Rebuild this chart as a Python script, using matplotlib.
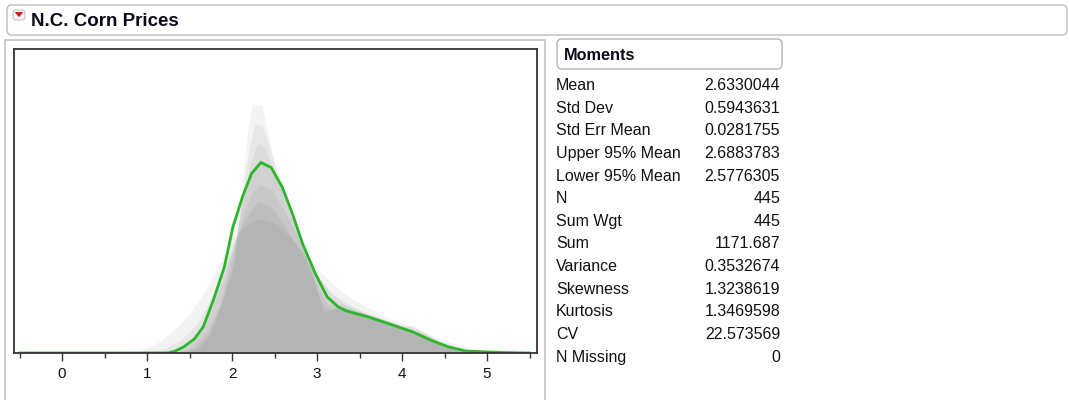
import matplotlib.pyplot as plt
from matplotlib.patches import FancyBboxPatch, Rectangle, Polygon

plt.rcParams['font.family'] = ['Liberation Sans', 'DejaVu Sans']

# smoothed density of corn price ($/bu), drawn as the green curve
price_x = [-0.5, 1.25, 1.33, 1.43, 1.56, 1.66, 1.78, 1.91, 2.01, 2.13, 2.23, 2.34,
           2.46, 2.59, 2.71, 2.83, 2.98, 3.12, 3.25, 3.35, 3.60, 3.84, 4.13, 4.34,
           4.55, 4.75, 5.0, 5.2, 5.5]
price_density = [0, 0, 0.009, 0.028, 0.066, 0.12, 0.244, 0.398, 0.583, 0.73, 0.83, 0.881,
                 0.858, 0.768, 0.645, 0.506, 0.367, 0.259, 0.213, 0.194, 0.167, 0.136, 0.097, 0.059,
                 0.028, 0.009, 0.005, 0.002, 0]

# shadowgram layers, from the narrowest bandwidth to the widest
shadow1_x = [1.4, 1.6, 1.75, 1.9, 2.03, 2.12, 2.18, 2.24, 2.35, 2.42, 2.5, 2.6, 2.75, 2.9,
             3.0, 3.08, 3.17, 3.28, 3.45, 3.65, 3.85, 4.0, 4.12, 4.25, 4.45, 4.65, 4.8]
shadow1_y = [0, 0.02, 0.09, 0.25, 0.42, 0.78, 1.02, 1.15, 1.15, 1.02, 0.88, 0.74, 0.57, 0.42,
             0.29, 0.19, 0.2, 0.23, 0.2, 0.17, 0.14, 0.12, 0.13, 0.1, 0.045, 0.012, 0]

shadow2_x = [1.35, 1.55, 1.72, 1.87, 2.02, 2.12, 2.2, 2.27, 2.36, 2.45, 2.56, 2.7, 2.85,
             2.97, 3.07, 3.17, 3.3, 3.5, 3.75, 3.95, 4.1, 4.3, 4.5, 4.7, 4.85]
shadow2_y = [0, 0.02, 0.09, 0.23, 0.44, 0.72, 0.94, 1.06, 1.05, 0.94, 0.8, 0.63, 0.46,
             0.32, 0.22, 0.2, 0.215, 0.19, 0.16, 0.135, 0.125, 0.085, 0.035, 0.01, 0]

shadow3_x = [1.3, 1.5, 1.7, 1.85, 2.0, 2.12, 2.22, 2.3, 2.38, 2.48, 2.6, 2.75, 2.9, 3.02,
             3.12, 3.25, 3.45, 3.7, 3.9, 4.1, 4.3, 4.5, 4.7, 4.9]
shadow3_y = [0, 0.02, 0.1, 0.22, 0.45, 0.68, 0.88, 0.97, 0.95, 0.86, 0.74, 0.58, 0.42, 0.3,
             0.23, 0.21, 0.185, 0.16, 0.135, 0.11, 0.065, 0.028, 0.008, 0]

shadow5_x = [1.0, 1.3, 1.5, 1.7, 1.9, 2.05, 2.2, 2.32, 2.45, 2.6, 2.8, 3.0, 3.15, 3.3, 3.5,
             3.7, 3.9, 4.1, 4.3, 4.5, 4.7, 4.9, 5.2]
shadow5_y = [0, 0.015, 0.05, 0.15, 0.34, 0.54, 0.72, 0.78, 0.76, 0.67, 0.52, 0.37, 0.28, 0.23,
             0.195, 0.165, 0.135, 0.105, 0.07, 0.035, 0.013, 0.004, 0]

shadow6_x = [0.9, 1.2, 1.4, 1.6, 1.8, 2.0, 2.15, 2.3, 2.45, 2.6, 2.8, 3.0, 3.2, 3.4, 3.6,
             3.8, 4.0, 4.2, 4.4, 4.6, 4.8, 5.0, 5.3]
shadow6_y = [0, 0.02, 0.06, 0.14, 0.29, 0.47, 0.62, 0.70, 0.68, 0.6, 0.47, 0.35, 0.27, 0.22,
             0.185, 0.155, 0.125, 0.095, 0.065, 0.035, 0.016, 0.006, 0]

shadow7_x = [0.6, 0.9, 1.1, 1.3, 1.5, 1.7, 1.9, 2.1, 2.3, 2.5, 2.7, 2.9, 3.1, 3.3, 3.5, 3.7,
             3.9, 4.1, 4.3, 4.5, 4.7, 4.9, 5.1, 5.4]
shadow7_y = [0, 0.01, 0.04, 0.1, 0.18, 0.3, 0.45, 0.57, 0.62, 0.6, 0.53, 0.44, 0.35, 0.28,
             0.23, 0.19, 0.15, 0.12, 0.09, 0.06, 0.035, 0.018, 0.007, 0]

moment_names = ["Mean", "Std Dev", "Std Err Mean", "Upper 95% Mean", "Lower 95% Mean", "N",
                "Sum Wgt", "Sum", "Variance", "Skewness", "Kurtosis", "CV", "N Missing"]
moment_values = ["2.6330044", "0.5943631", "0.0281755", "2.6883783", "2.5776305", "445",
                 "445", "1171.687", "0.3532674", "1.3238619", "1.3469598", "22.573569", "0"]

W, H = 1069, 400
fig = plt.figure(figsize=(W / 100, H / 100), dpi=100)
inch = fig.dpi_scale_trans


def at(x, y):
    # pixel position from the top-left corner -> inches for dpi_scale_trans
    return x / 100, (H - y) / 100


# header bar
fig.add_artist(FancyBboxPatch(at(7, 35), 1060 / 100, 30 / 100,
                              boxstyle="round,pad=0,rounding_size=0.05", transform=inch,
                              fc="white", ec="#bdbdbd", lw=1.0))
fig.add_artist(FancyBboxPatch(at(13, 20), 12 / 100, 10 / 100,
                              boxstyle="round,pad=0,rounding_size=0.03", transform=inch,
                              fc="#f4f4f4", ec="#b0b0b0", lw=0.6))
fig.add_artist(Polygon([at(15.5, 12.5), at(22.5, 12.5), at(19, 16.5)], closed=True,
                       transform=inch, fc="#e8141e", ec="#c00000", lw=0.5))
fig.text(*at(31, 26.5), "N.C. Corn Prices", transform=inch, fontsize=13.5,
         fontweight="bold", color="#0a0a1a", ha="left", va="baseline")

# outline of the plot panel
fig.add_artist(Rectangle(at(5, 410), 540 / 100, 370 / 100, transform=inch,
                         fill=False, ec="#c8c8c8", lw=1.3))

ax = fig.add_axes([14 / W, 47 / H, 523 / W, 304 / H])

layers = [(shadow1_x, shadow1_y), (shadow2_x, shadow2_y), (shadow3_x, shadow3_y),
          (price_x, price_density), (shadow5_x, shadow5_y), (shadow6_x, shadow6_y),
          (shadow7_x, shadow7_y)]
layer_alpha = 1 - 0.706 ** (1 / len(layers))
for lx, ly in layers:
    ax.fill_between(lx, 0, ly, color="black", alpha=layer_alpha, lw=0)

ax.plot(price_x, price_density, color="#2cb62c", lw=2.0, solid_joinstyle="miter")

ax.set_xlim(-0.565, 5.588)
ax.set_ylim(0, 1.406)
ax.set_xticks(range(0, 6))
ax.set_xticks([-0.5, 0.5, 1.5, 2.5, 3.5, 4.5, 5.5], minor=True)
ax.set_yticks([])
ax.tick_params(axis="x", which="major", length=6, width=1.0, color="#333333",
               labelsize=11, labelcolor="#111111", pad=4)
ax.tick_params(axis="x", which="minor", length=3.5, width=1.0, color="#333333")
for spine in ax.spines.values():
    spine.set_color("#333333")
    spine.set_linewidth(1.3)

# moments table
fig.add_artist(FancyBboxPatch(at(557, 69), 225 / 100, 30 / 100,
                              boxstyle="round,pad=0,rounding_size=0.05", transform=inch,
                              fc="white", ec="#b4b4b4", lw=1.0))
fig.text(*at(564, 60), "Moments", transform=inch, fontsize=11.7, fontweight="bold",
         color="#0a0a1a", ha="left", va="baseline")
for i, (name, value) in enumerate(zip(moment_names, moment_values)):
    base = 84.3 + i * 22.62 + 5.8
    fig.text(*at(556, base), name, transform=inch, fontsize=11.5, color="#111111",
             ha="left", va="baseline")
    fig.text(*at(780, base), value, transform=inch, fontsize=11.5, color="#111111",
             ha="right", va="baseline")

fig.savefig("out.png", dpi=100)
